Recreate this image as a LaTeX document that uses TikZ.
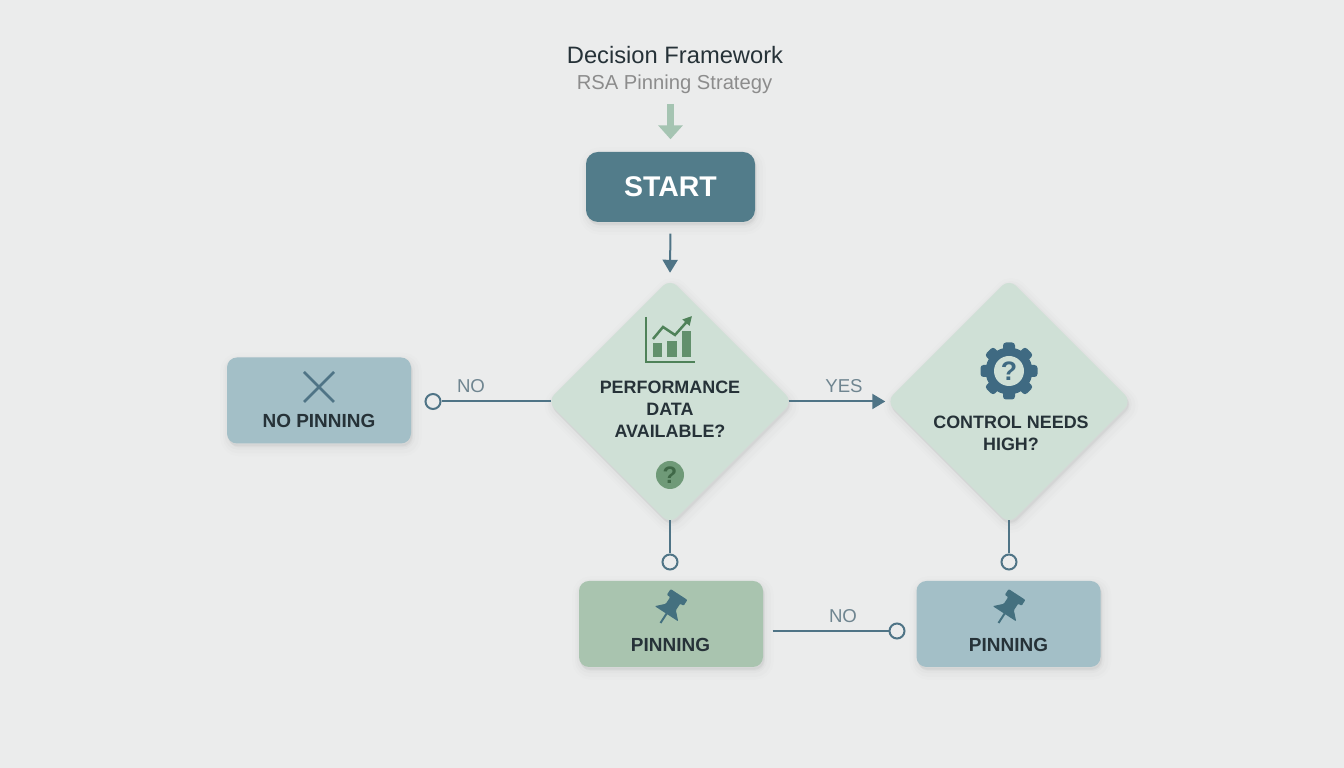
\documentclass[tikz,border=0pt]{standalone}
\usepackage{fontspec}
\setmainfont{Liberation Sans}
\usetikzlibrary{positioning, calc, shapes.geometric, arrows.meta, shadows}

\definecolor{bgcol}{HTML}{EBECEC}
\definecolor{startcol}{HTML}{527C8A}
\definecolor{diacol}{HTML}{CFE0D6}
\definecolor{bluecol}{HTML}{A3BFC7}
\definecolor{greencol}{HTML}{A9C4AF}
\definecolor{linecol}{HTML}{4F7486}
\definecolor{entrycol}{HTML}{A5C4B2}
\definecolor{labelcol}{HTML}{6F8590}
\definecolor{inkcol}{HTML}{263238}
\definecolor{chartcol}{HTML}{4F8259}
\definecolor{gearcol}{HTML}{3F6A82}
\definecolor{pincol}{HTML}{44707F}

\tikzset{
	softshadow/.style={
		general shadow={shadow xshift=.02cm,shadow yshift=-.04cm,fill=black,draw=black,line width=5pt,opacity=.008},
		general shadow={shadow xshift=.02cm,shadow yshift=-.04cm,fill=black,draw=black,line width=3.4pt,opacity=.012},
		general shadow={shadow xshift=.01cm,shadow yshift=-.03cm,fill=black,draw=black,line width=1.8pt,opacity=.014},
		general shadow={shadow xshift=.01cm,shadow yshift=-.02cm,fill=black,draw=black,line width=.5pt,opacity=.012}},
	box/.style={rectangle,rounded corners=.1cm,minimum width=1.84cm,minimum height=.86cm,inner sep=0,softshadow},
	decision/.style={diamond,shape aspect=1,rounded corners=.1cm,minimum width=2.46cm,minimum height=2.46cm,inner sep=0,fill=diacol,softshadow},
	boxlabel/.style={font=\bfseries\fontsize{5.4}{6.3}\selectfont,text=inkcol,align=center,inner sep=0},
	branchlabel/.style={font=\fontsize{5.3}{6.3}\selectfont,text=labelcol,inner sep=0},
	link/.style={draw=linecol,line width=.02cm},
	endcircle/.style={circle,draw=linecol,line width=.02cm,minimum size=.15cm,inner sep=0},
	linktip/.style={-{Triangle[width=.15cm,length=.13cm]}},
	pushpin/.pic={
		\draw[pincol,line width=.02cm] (0,0) -- (0,.12);
		\fill[pincol,rounded corners=.01cm] (-.14,.11) -- (.14,.11) -- (.06,.19) -- (.06,.27) -- (.1,.27) -- (.1,.34) -- (-.1,.34) -- (-.1,.27) -- (-.06,.27) -- (-.06,.19) -- cycle;
	}
}

\begin{document}
\begin{tikzpicture}
	\useasboundingbox (0,0) rectangle (13.44,7.68);
	\fill[bgcol] (0,0) rectangle (13.44,7.68);

	\node (title) at (6.75,7.13) [font=\fontsize{6.75}{8}\selectfont,text=inkcol,inner sep=0] {Decision Framework};
	\node (subtitle) at (6.745,6.84) [font=\fontsize{5.75}{7}\selectfont,text=black!45,inner sep=0] {RSA Pinning Strategy};
	\coordinate (entry) at (6.705,6.64);

	\node (start) at (6.705,5.81) [rectangle,rounded corners=.12cm,minimum width=1.69cm,minimum height=.7cm,inner sep=0,fill=startcol,softshadow,text=white,font=\bfseries\fontsize{8.1}{9}\selectfont] {START};
	\node (perf) at (6.7,3.665) [decision] {};
	\node (ctrl) at (10.09,3.665) [decision] {};
	\node (nopin) at (3.19,3.675) [box,fill=bluecol] {};
	\node (pin) at (6.71,1.44) [box,fill=greencol] {};
	\node (pinb) at (10.085,1.44) [box,fill=bluecol] {};

	\node (perftext) at (6.7,3.59) [boxlabel,font=\bfseries\fontsize{5.1}{6.26}\selectfont] {PERFORMANCE\\DATA\\AVAILABLE?};
	\node (ctrltext) at (10.11,3.345) [boxlabel,font=\bfseries\fontsize{5.1}{6.26}\selectfont] {CONTROL NEEDS\\HIGH?};
	\node (nopintext) at (3.19,3.47) [boxlabel] {NO PINNING};
	\node (pintext) at (6.705,1.235) [boxlabel] {PINNING};
	\node (pinbtext) at (10.085,1.235) [boxlabel] {PINNING};

	\node (noend) at (4.33,3.665) [endcircle] {};
	\node (perfend) at (6.7,2.06) [endcircle] {};
	\node (ctrlend) at (10.09,2.06) [endcircle] {};
	\node (pinend) at (8.97,1.37) [endcircle] {};

	\node (nolabel) at (4.71,3.82) [branchlabel] {NO};
	\node (yeslabel) at (8.44,3.82) [branchlabel] {YES};
	\node (pinlabel) at (8.43,1.52) [branchlabel] {NO};

	\draw[draw=entrycol,line width=.07cm,-{Triangle[width=.24cm,length=.14cm]},shorten >=.12cm] (entry) -- (start.north);
	\draw[link,linktip,shorten <=.11cm,shorten >=.05cm] (start.south) -- (perf.north);
	\draw[link,shorten >=-.05cm] (noend) -- (perf.west);
	\draw[link,linktip,shorten <=-.05cm] (perf.east) -- (ctrl.west);
	\draw[link,shorten <=-.05cm] (perf.south) -- (perfend);
	\draw[link,shorten <=-.05cm] (ctrl.south) -- (ctrlend);
	\draw[link,shorten <=.09cm] (pin.east |- pinend) -- (pinend);

	\draw[linecol,line width=.025cm] (3.04,3.96) -- (3.34,3.66) (3.04,3.66) -- (3.34,3.96);

	\draw[chartcol,line width=.025cm] (6.46,4.51) -- (6.46,4.06) -- (6.95,4.06);
	\fill[chartcol!85!diacol] (6.53,4.11) rectangle (6.62,4.25);
	\fill[chartcol!85!diacol] (6.67,4.11) rectangle (6.77,4.27);
	\fill[chartcol!85!diacol] (6.82,4.11) rectangle (6.91,4.37);
	\draw[chartcol,line width=.025cm,-{Triangle[width=.09cm,length=.09cm]}] (6.53,4.29) -- (6.63,4.41) -- (6.75,4.33) -- (6.92,4.52);

	\fill[chartcol!75!diacol] (6.7,2.93) circle (.14);
	\node (perfmark) at (6.7,2.93) [font=\bfseries\fontsize{6.8}{7}\selectfont,text=chartcol!80!black,inner sep=0] {?};

	\fill[gearcol] (10.09,3.97) circle (.235);
	\foreach \a in {0,45,...,315}
		\fill[gearcol,rounded corners=.03cm,rotate around={\a:(10.09,3.97)}] (10.03,3.97) rectangle (10.15,4.255);
	\fill[diacol] (10.09,3.97) circle (.15);
	\node (ctrlmark) at (10.09,3.97) [font=\bfseries\fontsize{7.6}{8}\selectfont,text=gearcol,inner sep=0] {?};

	\pic at (6.605,1.45) [rotate=-33] {pushpin};
	\pic at (9.985,1.45) [rotate=-33] {pushpin};
\end{tikzpicture}
\end{document}
